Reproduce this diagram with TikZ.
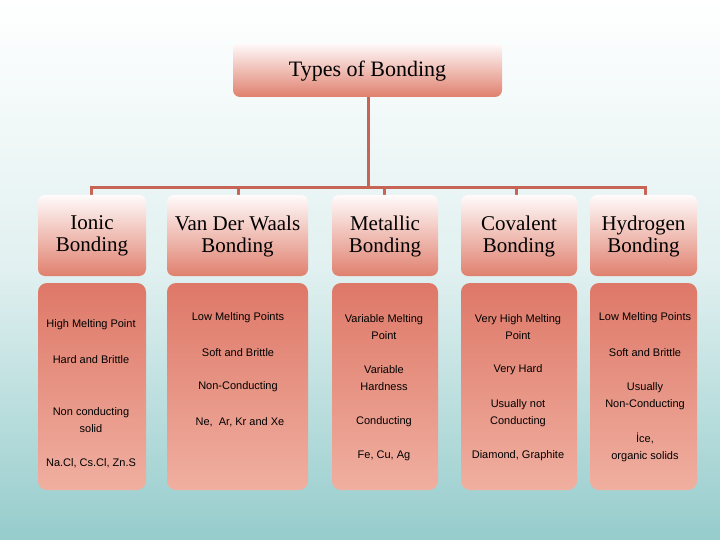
\documentclass[tikz,border=0pt]{standalone}
\usepackage{fontspec}
\setmainfont{Liberation Serif}
\newfontfamily\arial{Liberation Sans}
\begin{document}
\begin{tikzpicture}[x=1pt,y=-1pt,
  hdr/.style={rounded corners=7pt,top color=white!85!red!10,bottom color={rgb,255:red,224;green,128;blue,110}},
  bodybox/.style={rounded corners=9pt,top color={rgb,255:red,222;green,120;blue,104},bottom color={rgb,255:red,240;green,175;blue,160}},
  ht/.style={font=\fontsize{21}{22}\selectfont,align=center},
  bt/.style={font=\arial\fontsize{11}{17}\selectfont,align=center,text=black},
  conn/.style={draw={rgb,255:red,200;green,100;blue,85},line width=3pt}]
\useasboundingbox (0,0) rectangle (720,540);
\shade[top color=white,bottom color={rgb,255:red,150;green,204;blue,204},middle color={rgb,255:red,225;green,240;blue,240}] (0,0) rectangle (720,540);
% connectors
\coordinate (j) at (368,188);
\draw[conn] (368,97) -- (j);
\draw[conn] (91,195) |- (645,188) -- (645,195);
\foreach \x in {238,384,516}{\draw[conn] (\x,188) -- (\x,195);}
\node[hdr,minimum width=269,minimum height=54] (t) at (367.5,70) {};
\node[font=\fontsize{22}{24}\selectfont] (tt) at (367.5,71) {Types of Bonding};
\foreach \n/\a/\b/\lbl in {i/38/146/Ionic\\Bonding, v/167/308/Van Der Waals\\Bonding, m/332/438/Metallic\\Bonding, c/461/577/Covalent\\Bonding, h/590/697/Hydrogen\\Bonding}{
  \path[hdr] (\a,195) rectangle (\b,276);
  \path[bodybox] (\a,283) rectangle (\b,490);
  \node[ht] (\n) at ({(\a+\b)/2},236) {\lbl};
}
\node[bt] (i1) at (91,325) {High Melting Point};
\node[bt] (i2) at (91,360) {Hard and Brittle};
\node[bt] (i3) at (91,420) {Non conducting\\solid};
\node[bt] (i4) at (91,463) {Na.Cl, Cs.Cl, Zn.S};
\node[bt] (v1) at (238,318) {Low Melting Points};
\node[bt] (v2) at (238,353) {Soft and Brittle};
\node[bt] (v3) at (238,387) {Non-Conducting};
\node[bt] (v4) at (240,422) {Ne,\ \ Ar, Kr and Xe};
\node[bt] (m1) at (384,327) {Variable Melting\\Point};
\node[bt] (m2) at (384,378) {Variable\\Hardness};
\node[bt] (m3) at (384,422) {Conducting};
\node[bt] (m4) at (384,456) {Fe, Cu, Ag};
\node[bt] (c1) at (518,327) {Very High Melting\\Point};
\node[bt] (c2) at (518,370) {Very Hard};
\node[bt] (c3) at (518,413) {Usually not\\Conducting};
\node[bt] (c4) at (518,456) {Diamond, Graphite};
\node[bt] (h1) at (645,318) {Low Melting Points};
\node[bt] (h2) at (645,353) {Soft and Brittle};
\node[bt] (h3) at (645,396) {Usually\\Non-Conducting};
\node[bt] (h4) at (645,447) {İce,\\organic solids};
\end{tikzpicture}
\end{document}
